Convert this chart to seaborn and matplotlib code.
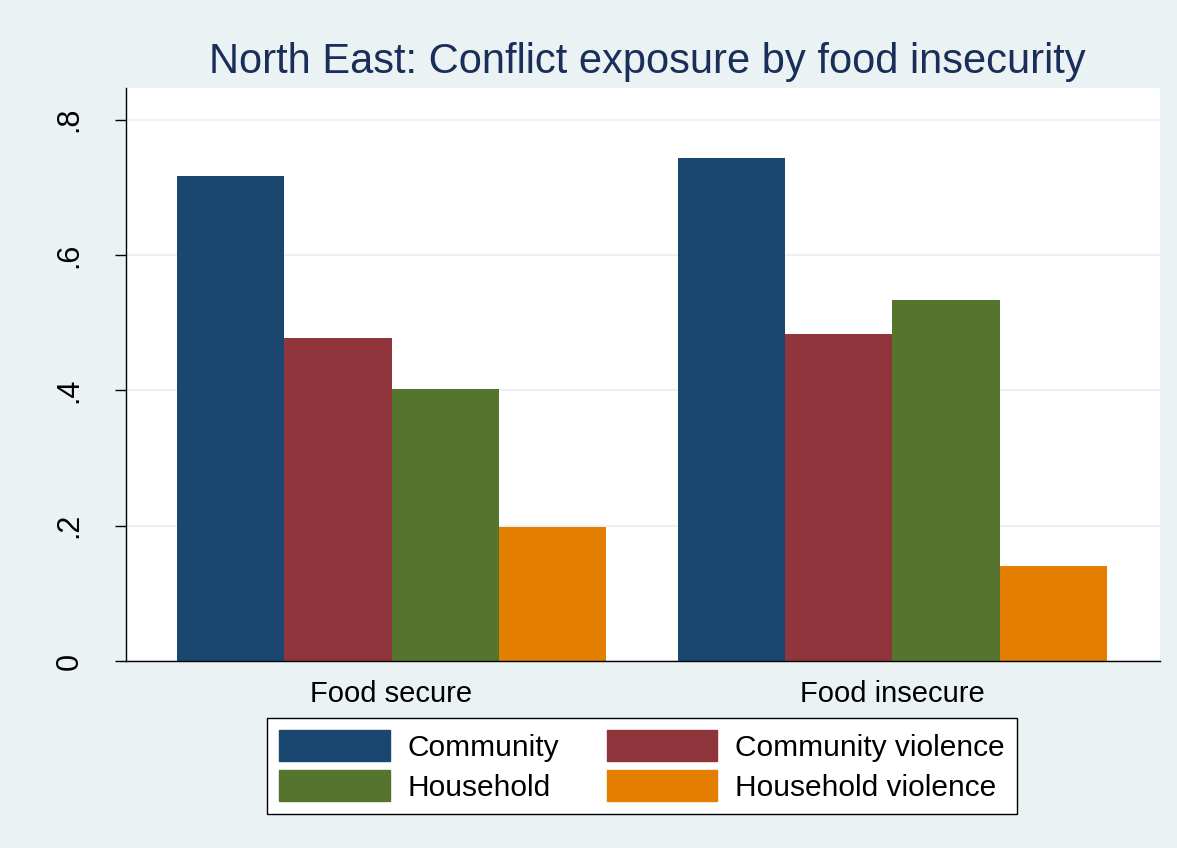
import pandas as pd
import matplotlib.pyplot as plt
import seaborn as sns

# data
groups = ['Food secure', 'Food insecure']
series = ['Community', 'Community violence', 'Household', 'Household violence']
community = [0.717, 0.744]
community_violence = [0.478, 0.484]
household = [0.402, 0.534]
household_violence = [0.198, 0.140]

colors = ['#1A476F', '#90353B', '#55752F', '#E37E00']

rows = []
for name, vals in zip(series, [community, community_violence, household, household_violence]):
    for g, v in zip(groups, vals):
        rows.append({'group': g, 'series': name, 'value': v})
df = pd.DataFrame(rows)

sns.set_style('white')
plt.rcParams['font.family'] = ['Liberation Sans', 'DejaVu Sans']
plt.rcParams['text.color'] = 'black'
plt.rcParams['xtick.color'] = 'black'
plt.rcParams['ytick.color'] = 'black'

bg = '#EAF2F3'
fig = plt.figure(figsize=(11.77, 8.48), dpi=100, facecolor=bg)
ax = fig.add_axes([126 / 1177, 1 - 661 / 848, (1160 - 126) / 1177, (661 - 88) / 848])
ax.set_facecolor('white')

sns.barplot(data=df, x='group', y='value', hue='series', order=groups, hue_order=series,
            palette=colors, saturation=1, width=0.856, gap=0, errorbar=None,
            linewidth=0, legend=False, ax=ax)

ax.set_xlim(-0.53, 1.534)
ax.set_ylim(0, 0.847)
ax.set_yticks([0, 0.2, 0.4, 0.6, 0.8])
ax.set_yticklabels(['0', '.2', '.4', '.6', '.8'], rotation=90, va='center', fontsize=22)
ax.tick_params(axis='y', length=8, width=1, color='black', pad=22, left=True)
ax.tick_params(axis='x', length=0, labelsize=21, pad=14)
ax.yaxis.grid(True, color=bg, linewidth=1.5)
ax.set_axisbelow(True)
ax.set_xlabel('')
ax.set_ylabel('')
for s in ['top', 'right']:
    ax.spines[s].set_visible(False)
for s in ['left', 'bottom']:
    ax.spines[s].set_color('black')
    ax.spines[s].set_linewidth(1)

fig.text(647 / 1177, 1 - 62 / 848, 'North East: Conflict exposure by food insecurity',
         ha='center', va='center', fontsize=30, color='#1A2E5A')

# legend: column-wise fill, so reorder to get two rows
handles = [plt.Rectangle((0, 0), 1, 1, color=c) for c in colors]
order = [0, 2, 1, 3]
leg = fig.legend([handles[i] for i in order], [series[i] for i in order],
                 ncol=2, loc='center', bbox_to_anchor=(642 / 1177, 1 - 766 / 848),
                 fontsize=21.5, frameon=True, fancybox=False, edgecolor='black',
                 facecolor='white', framealpha=1,
                 handlelength=3.7, handleheight=1.2, columnspacing=1.6,
                 handletextpad=0.6, borderpad=0.4, labelspacing=0.3)
leg.get_frame().set_linewidth(1)

fig.savefig('out.png', dpi=100, facecolor=bg)
